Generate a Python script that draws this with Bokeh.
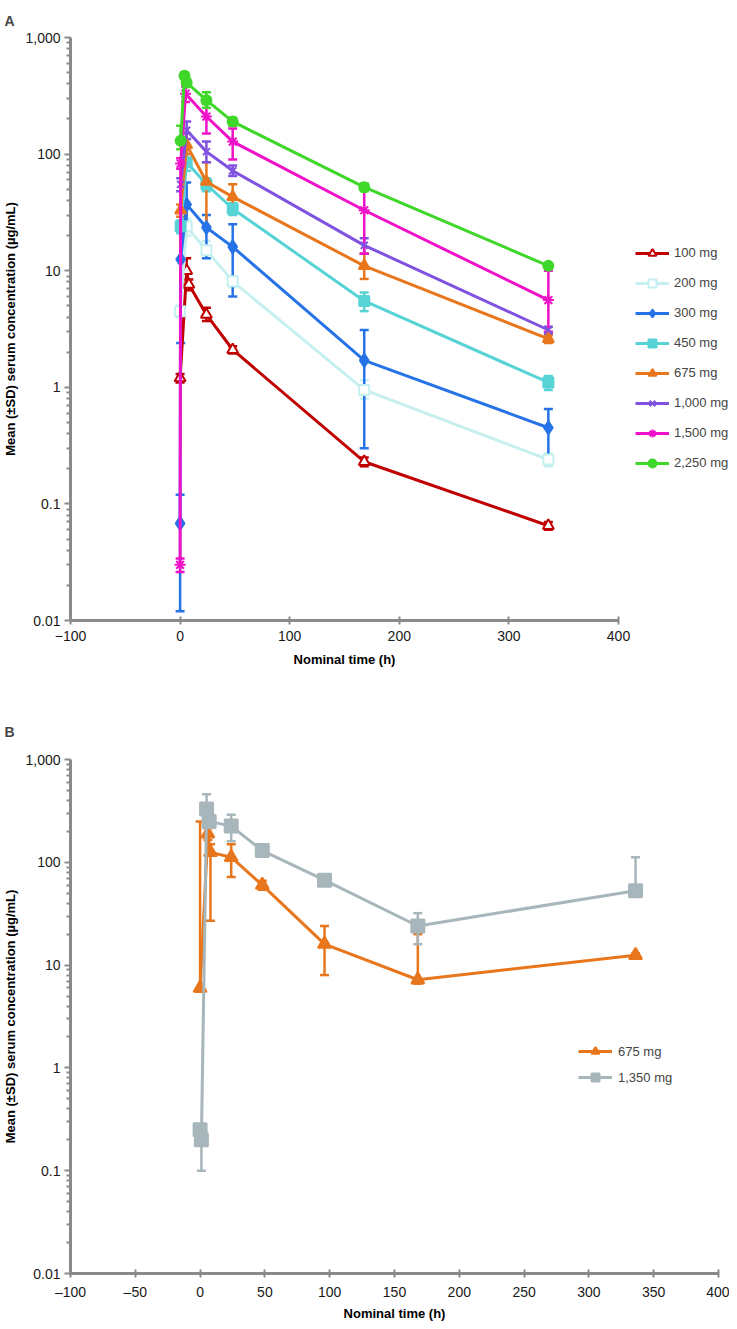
from bokeh.plotting import figure
from bokeh.models import (Range1d, FixedTicker, CustomJSTickFormatter, Whisker, TeeHead,
                          ColumnDataSource, Legend, LegendItem)
from bokeh.layouts import column
from bokeh.embed import file_html
from bokeh.resources import INLINE

# ---------------- Panel A data ----------------
labels_a = ["100 mg", "200 mg", "300 mg", "450 mg", "675 mg", "1,000 mg", "1,500 mg", "2,250 mg"]

t_100mg = [0, 6, 8, 24, 48, 168, 336]
c_100mg = [1.2, 10, 7.6, 4.2, 2.1, 0.23, 0.065]
hi_100mg = [1.3, 12.8, 8.4, 4.8, 2.25, 0.25, 0.07]
lo_100mg = [1.1, 7.6, 6.8, 3.7, 1.95, 0.21, 0.06]

t_200mg = [0, 6, 24, 48, 168, 336]
c_200mg = [4.5, 24, 15, 8.1, 0.95, 0.24]
hi_200mg = [5, 28, 18, 9, 1.15, 0.27]
lo_200mg = [4, 20, 12.7, 7.2, 0.8, 0.21]

t_300mg = [0, 0.5, 6, 24, 48, 168, 336]
c_300mg = [0.068, 12.5, 37, 23.5, 16, 1.7, 0.45]
hi_300mg = [0.12, 22, 57, 30, 25, 3.1, 0.65]
lo_300mg = [0.012, 2.4, 24, 12.8, 6, 0.3, 0.25]

t_450mg = [0.5, 6, 24, 48, 168, 336]
c_450mg = [24, 85, 55, 34, 5.5, 1.1]
hi_450mg = [27, 100, 62, 38, 6.5, 1.25]
lo_450mg = [21, 72, 48, 30, 4.5, 0.95]

t_675mg = [0.5, 6, 24, 48, 168, 336]
c_675mg = [33, 120, 58, 43, 11, 2.6]
hi_675mg = [37, 150, 85, 55, 14, 2.8]
lo_675mg = [29, 100, 24, 33, 8.5, 2.4]

t_1000mg = [0.5, 6, 24, 48, 168, 336]
c_1000mg = [55, 160, 105, 72, 16.5, 3.1]
hi_1000mg = [62, 190, 128, 80, 19, 3.3]
lo_1000mg = [48, 135, 85, 65, 14, 2.9]

t_1500mg = [0, 0.5, 5, 24, 48, 168, 336]
c_1500mg = [0.03, 83, 330, 210, 128, 33, 5.6]
hi_1500mg = [0.034, 92, 380, 270, 166, 51, 10]
lo_1500mg = [0.026, 75, 280, 150, 90, 14, 3]

t_2250mg = [0.5, 4, 6, 24, 48, 168, 336]
c_2250mg = [130, 470, 410, 290, 190, 52, 11]
hi_2250mg = [175, 500, 440, 340, 205, 56, 11.5]
lo_2250mg = [110, 440, 380, 250, 175, 48, 10.5]

# ---------------- Panel B data ----------------
labels_b = ["675 mg", "1,350 mg"]

t_b675 = [0, 6, 8, 24, 48, 96, 168, 336]
c_b675 = [6, 190, 125, 112, 60, 16, 7.2, 12.5]
hi_b675 = [250, 215, 150, 150, 66, 24, 20, 13]
lo_b675 = [5.5, 165, 27, 72, 54, 8, 6.6, 12]

t_b1350 = [0, 1, 5, 7, 24, 48, 96, 168, 336]
c_b1350 = [0.25, 0.2, 330, 250, 225, 130, 67, 24, 53]
hi_b1350 = [0.27, 0.22, 460, 270, 290, 142, 71, 32, 112]
lo_b1350 = [0.23, 0.1, 240, 230, 160, 120, 63, 16, 50]

y_ticks = [0.01, 0.1, 1, 10, 100, 1000]
xticks_a = [-100, 0, 100, 200, 300, 400]
xticks_b = [-100, -50, 0, 50, 100, 150, 200, 250, 300, 350, 400]

FONT = "Liberation Sans"
AXIS_GRAY = "#8a8a8a"

series_a = [
    (t_100mg, c_100mg, hi_100mg, lo_100mg, "#C00000", "triangle", "white", 11),
    (t_200mg, c_200mg, hi_200mg, lo_200mg, "#C6F0F0", "square", "white", 10),
    (t_300mg, c_300mg, hi_300mg, lo_300mg, "#2673E8", "diamond", None, 13),
    (t_450mg, c_450mg, hi_450mg, lo_450mg, "#57D3D6", "square", None, 10),
    (t_675mg, c_675mg, hi_675mg, lo_675mg, "#E8761C", "triangle", None, 11),
    (t_1000mg, c_1000mg, hi_1000mg, lo_1000mg, "#8052E0", "x", None, 10),
    (t_1500mg, c_1500mg, hi_1500mg, lo_1500mg, "#F012C8", "asterisk", None, 11),
    (t_2250mg, c_2250mg, hi_2250mg, lo_2250mg, "#3FD72A", "circle", None, 10),
]

series_b = [
    (t_b675, c_b675, hi_b675, lo_b675, "#E8761C", "triangle", None, 13),
    (t_b1350, c_b1350, hi_b1350, lo_b1350, "#A7B6BB", "square", None, 13),
]

minor = [m * 10.0 ** e for e in range(-2, 3) for m in range(2, 10)]

ylab_fmt = CustomJSTickFormatter(code=r"""
var s = String(tick);
return s.replace(/\B(?=(\d{3})+(?!\d))/g, ",");
""")


def style_axes(p, xticks, xfmt, xtitle_standoff):
    p.xgrid.visible = False
    p.ygrid.visible = False
    p.outline_line_color = None
    p.background_fill_color = "white"
    p.yaxis.ticker = FixedTicker(ticks=y_ticks, minor_ticks=minor)
    p.yaxis.formatter = ylab_fmt
    p.xaxis.ticker = FixedTicker(ticks=xticks)
    if xfmt is not None:
        p.xaxis.formatter = xfmt
    for ax in (p.xaxis[0], p.yaxis[0]):
        ax.axis_line_color = AXIS_GRAY
        ax.axis_line_width = 3
        ax.major_tick_line_color = AXIS_GRAY
        ax.major_tick_line_width = 2
        ax.minor_tick_line_color = AXIS_GRAY
        ax.minor_tick_line_width = 2
        ax.major_label_text_font = FONT
        ax.major_label_text_font_size = "14px"
        ax.major_label_text_color = "#1a1a1a"
        ax.axis_label_text_font = FONT
        ax.axis_label_text_font_style = "bold"
        ax.axis_label_text_font_size = "13px"
        ax.axis_label_text_color = "black"
    p.yaxis.major_tick_out = 6
    p.yaxis.major_tick_in = 0
    p.yaxis.minor_tick_out = 4
    p.yaxis.minor_tick_in = 0
    p.yaxis.major_label_standoff = 4
    p.yaxis.axis_label_standoff = 4
    p.xaxis.major_tick_out = 4
    p.xaxis.major_tick_in = 4
    p.xaxis.minor_tick_out = 0
    p.xaxis.minor_tick_in = 0
    p.xaxis.major_label_standoff = 6
    p.xaxis.axis_label_standoff = xtitle_standoff
    p.yaxis.axis_label = "Mean (\u00b1SD) serum concentration (\u00b5g/mL)"
    p.xaxis.axis_label = "Nominal time (h)"


def draw_series(p, spec, labels, lw=3):
    items = []
    for (t, c, hi, lo, col, mk, fill, sz), lab in zip(spec, labels):
        src = ColumnDataSource(dict(t=t, c=c, hi=hi, lo=lo))
        w = Whisker(source=src, base="t", upper="hi", lower="lo", dimension="height",
                    line_color=col, line_width=2.5,
                    upper_head=TeeHead(size=9, line_color=col, line_width=2.5),
                    lower_head=TeeHead(size=9, line_color=col, line_width=2.5))
        p.add_layout(w)
        lr = p.line("t", "c", source=src, line_color=col, line_width=lw)
        fc = fill if fill is not None else col
        sr = p.scatter("t", "c", source=src, marker=mk, size=sz, fill_color=fc,
                       line_color=col, line_width=2)
        items.append(LegendItem(label=lab, renderers=[lr, sr]))
    return items


def panel_title(p, text, standoff):
    p.title.text = text
    p.title.align = "left"
    p.title.offset = -66
    p.title.text_font = FONT
    p.title.text_font_style = "bold"
    p.title.text_font_size = "14px"
    p.title.standoff = standoff


# ---------------- Figure A ----------------
pA = figure(frame_width=548, frame_height=583,
            x_range=Range1d(-100, 400), y_range=Range1d(0.01, 1000),
            y_axis_type="log", output_backend="svg", toolbar_location=None,
            min_border_left=62, min_border_right=0, min_border_top=37, min_border_bottom=48)
style_axes(pA, xticks_a, None, 8)
panel_title(pA, "A", 18)
items_a = draw_series(pA, series_a, labels_a)
legA = Legend(items=items_a, location="center_left", orientation="vertical",
              glyph_width=34, glyph_height=20, label_height=20, spacing=10,
              label_standoff=5, padding=0, margin=17,
              title=" ", title_text_font_size="1px", title_standoff=57,
              label_text_font=FONT, label_text_font_size="13px",
              border_line_color=None, background_fill_alpha=0)
pA.add_layout(legA, "right")

# ---------------- Figure B ----------------
xfmt_b = CustomJSTickFormatter(code=r"""return String(tick).replace('-', '\u2013');""")
pB = figure(frame_width=648, frame_height=514,
            x_range=Range1d(-100, 400), y_range=Range1d(0.01, 1000),
            y_axis_type="log", output_backend="svg", toolbar_location=None,
            min_border_left=62, min_border_right=11, min_border_top=90, min_border_bottom=40)
style_axes(pB, xticks_b, xfmt_b, 3)
panel_title(pB, "B", 39)
items_b = draw_series(pB, series_b, labels_b)
legB = Legend(items=items_b, location=(508, 186), orientation="vertical",
              glyph_width=34, glyph_height=20, label_height=20, spacing=6,
              label_standoff=6, padding=0, margin=0,
              label_text_font=FONT, label_text_font_size="13px",
              border_line_color=None, background_fill_alpha=0)
pB.add_layout(legB, "center")

layout = column(pA, pB, spacing=0)
open("out.html", "w").write(file_html(layout, INLINE))
